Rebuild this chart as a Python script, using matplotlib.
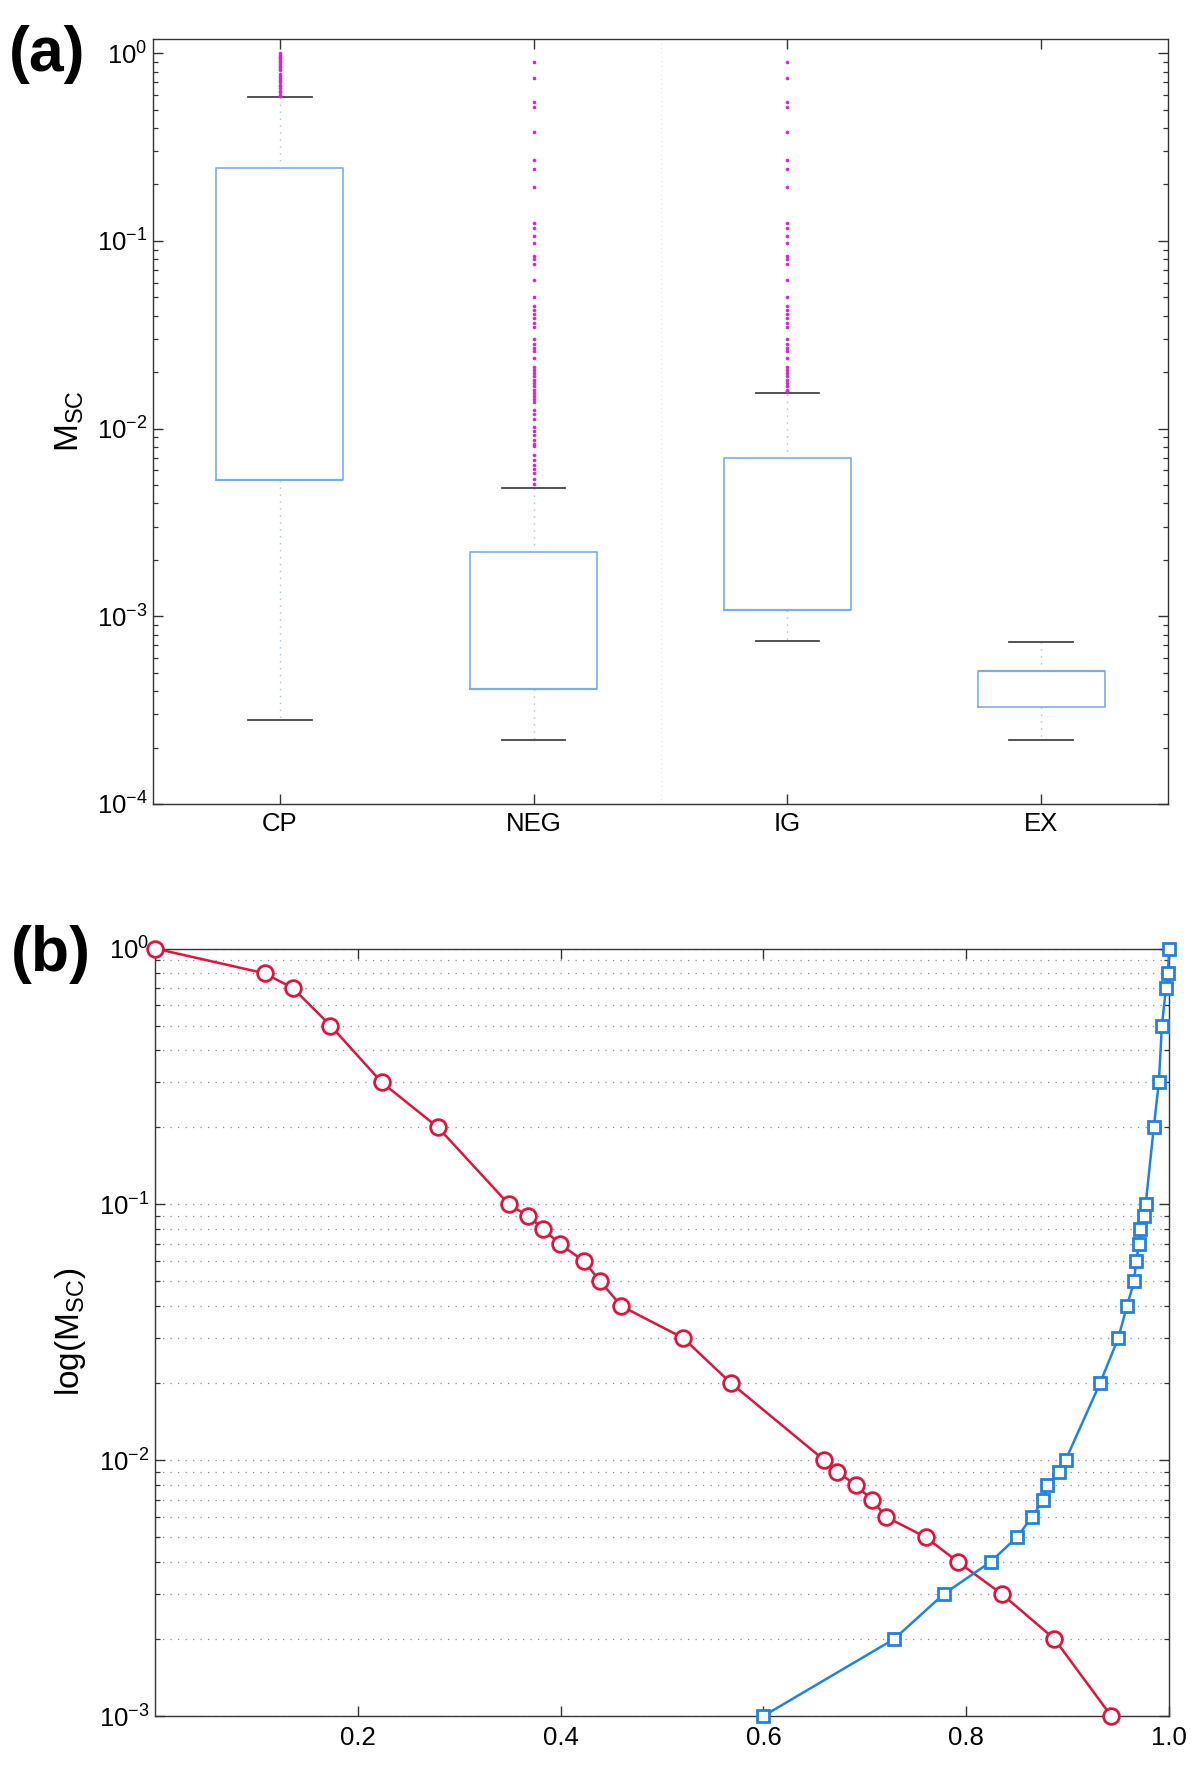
import matplotlib
matplotlib.use('Agg')
import matplotlib.pyplot as plt
from matplotlib.ticker import LogLocator, FixedLocator, NullFormatter, LogFormatterSciNotation, NullLocator

plt.rcParams['font.family'] = ['Liberation Sans', 'DejaVu Sans']
plt.rcParams['mathtext.fontset'] = 'custom'
plt.rcParams['mathtext.rm'] = 'Liberation Sans'
plt.rcParams['mathtext.it'] = 'Liberation Sans:italic'
plt.rcParams['mathtext.bf'] = 'Liberation Sans:bold'
plt.rcParams['axes.unicode_minus'] = False

# ---------------- data: panel (a) ----------------
categories = ['CP', 'NEG', 'IG', 'EX']
q1 = [5.3e-3, 4.1e-4, 1.08e-3, 3.3e-4]
medians = [5.3e-3, 4.1e-4, 1.08e-3, 5.1e-4]
q3 = [0.244, 2.2e-3, 6.97e-3, 5.1e-4]
whisker_low = [2.8e-4, 2.2e-4, 7.35e-4, 2.2e-4]
whisker_high = [0.585, 4.85e-3, 0.0154, 7.3e-4]

outliers_cp = [1.0, 0.98, 0.96, 0.95, 0.93, 0.91, 0.90, 0.88, 0.86, 0.85, 0.83,
               0.81, 0.78, 0.76, 0.74, 0.72, 0.70, 0.68, 0.67, 0.65, 0.63, 0.62,
               0.60, 0.59]
outliers_neg = [0.90, 0.74, 0.55, 0.52, 0.38, 0.27, 0.243, 0.194, 0.124, 0.117,
                0.106, 0.097, 0.0836, 0.080, 0.0758, 0.0622, 0.0501, 0.045, 0.043,
                0.041, 0.039, 0.0364, 0.0346, 0.0302, 0.0281, 0.0268, 0.0258,
                0.0238, 0.0214, 0.0205, 0.0198, 0.019, 0.0182, 0.0175, 0.0168,
                0.0161, 0.0155, 0.0149, 0.0144, 0.0139, 0.0126, 0.0119, 0.0112,
                0.0102, 0.0097, 0.0092, 0.0087, 0.0083, 0.0081, 0.0072, 0.0068,
                0.0064, 0.0061, 0.0058, 0.0054, 0.0051]
outliers_ig = [0.90, 0.74, 0.55, 0.52, 0.38, 0.27, 0.243, 0.194, 0.124, 0.117,
               0.106, 0.097, 0.0836, 0.080, 0.0758, 0.0622, 0.0501, 0.045, 0.043,
               0.041, 0.039, 0.0364, 0.0346, 0.0302, 0.0281, 0.0268, 0.0258,
               0.0238, 0.0214, 0.0205, 0.0198, 0.019, 0.0182, 0.0175, 0.0168,
               0.0161, 0.0158]
outliers_ex = []
outliers = [outliers_cp, outliers_neg, outliers_ig, outliers_ex]

# ---------------- data: panel (b) ----------------
msc_levels = [1.0, 0.8, 0.7, 0.5, 0.3, 0.2, 0.1, 0.09, 0.08, 0.07, 0.06, 0.05,
              0.04, 0.03, 0.02, 0.01, 0.009, 0.008, 0.007, 0.006, 0.005, 0.004,
              0.003, 0.002, 0.001]
red_x = [0.0, 0.108, 0.136, 0.173, 0.2235, 0.279, 0.349, 0.368, 0.383, 0.399,
         0.423, 0.439, 0.460, 0.521, 0.568, 0.660, 0.673, 0.691, 0.707, 0.721,
         0.760, 0.792, 0.835, 0.887, 0.943]
blue_x = [1.0, 0.999, 0.997, 0.993, 0.990, 0.985, 0.977, 0.975, 0.9717, 0.9706,
          0.9675, 0.9656, 0.9585, 0.950, 0.932, 0.898, 0.892, 0.880, 0.876,
          0.865, 0.850, 0.824, 0.778, 0.729, 0.600]
xticks_b = [0.2, 0.4, 0.6, 0.8, 1.0]

BOXC = '#7aaee8'
WHC = '#a6c2e0'
CAPC = '#444444'
MAG = '#dd22dd'
RED = '#e0143c'
BLUE = '#1e82e6'
SPINE = '#333333'

fig = plt.figure(figsize=(12, 17.75), dpi=100)

# ---------------- panel (a) ----------------
ax1 = fig.add_axes([153/1200, 1-804/1775, (1168-153)/1200, (804-39)/1775])
positions = list(range(1, len(categories)+1))
stats = []
for i, name in enumerate(categories):
    stats.append(dict(label=name, q1=q1[i], med=medians[i], q3=q3[i],
                      whislo=whisker_low[i], whishi=whisker_high[i],
                      fliers=outliers[i]))
ax1.bxp(stats, positions=positions, widths=0.5, capwidths=0.25, showfliers=True,
        boxprops=dict(color=BOXC, lw=1.2),
        whiskerprops=dict(color=WHC, ls=(0, (1, 4)), lw=1.0),
        capprops=dict(color=CAPC, lw=1.3),
        medianprops=dict(color=BOXC, lw=1.6),
        flierprops=dict(marker='o', markersize=2.6, markerfacecolor=MAG,
                        markeredgecolor=MAG, markeredgewidth=0, linestyle='none'))
ax1.axvline(2.5, color='#dddddd', ls=(0, (1, 3)), lw=0.8, zorder=0)
ax1.set_yscale('log')
ax1.set_ylim(1e-4, 1.192)
ax1.set_xlim(0.5, 4.5)
ax1.set_xticks(positions)
ax1.set_xticklabels(categories)
ax1.xaxis.set_minor_locator(NullLocator())
ax1.yaxis.set_major_locator(LogLocator(base=10, numticks=10))
ax1.yaxis.set_major_formatter(LogFormatterSciNotation())
ax1.yaxis.set_minor_locator(LogLocator(base=10, subs=range(2, 10), numticks=20))
ax1.yaxis.set_minor_formatter(NullFormatter())
ax1.tick_params(which='both', direction='in', top=True, right=True, color=SPINE)
ax1.tick_params(which='major', length=7.2, width=1.0, labelsize=18.5)
ax1.tick_params(which='minor', length=3.6, width=0.9)
ax1.tick_params(axis='x', which='major', pad=6)
ax1.tick_params(axis='y', which='major', pad=4)
for s in ax1.spines.values():
    s.set_color(SPINE)
    s.set_linewidth(1.0)
ax1.set_ylabel(r'M$_{\mathregular{SC}}$', fontsize=24)
ax1.yaxis.set_label_coords(-0.066, 0.5)

# ---------------- panel (b) ----------------
ax2 = fig.add_axes([155/1200, 1-1716/1775, (1169-155)/1200, (1716-948.5)/1775])
ax2.set_axisbelow(True)
ax2.plot(red_x, msc_levels, '-o', color=RED, mfc='white', mec=RED, ms=11.3,
         mew=2.0, lw=1.8, clip_on=False, zorder=3)
ax2.plot(blue_x, msc_levels, '-s', color=BLUE, mfc='white', mec=BLUE, ms=8.6,
         mew=2.0, lw=1.8, clip_on=False, zorder=3)
ax2.set_yscale('log')
ax2.set_ylim(1e-3, 1.0)
ax2.set_xlim(0.0, 1.0)
ax2.xaxis.set_major_locator(FixedLocator(xticks_b))
ax2.set_xticklabels(['%.1f' % v for v in xticks_b])
ax2.xaxis.set_minor_locator(NullLocator())
ax2.yaxis.set_major_locator(LogLocator(base=10, numticks=10))
ax2.yaxis.set_major_formatter(LogFormatterSciNotation())
ax2.yaxis.set_minor_locator(LogLocator(base=10, subs=range(2, 10), numticks=20))
ax2.yaxis.set_minor_formatter(NullFormatter())
ax2.yaxis.grid(True, which='both', color='#8c8c8c', ls=(0, (1, 5)), lw=0.9)
ax2.xaxis.grid(False)
ax2.tick_params(which='both', direction='in', top=True, right=True, color=SPINE)
ax2.tick_params(which='major', length=7.2, width=1.0, labelsize=18.5)
ax2.tick_params(which='minor', length=3.6, width=0.9)
ax2.tick_params(axis='x', which='major', pad=7)
ax2.tick_params(axis='y', which='major', pad=4)
for s in ax2.spines.values():
    s.set_color(SPINE)
    s.set_linewidth(1.0)
ax2.set_ylabel(r'log(M$_{\mathregular{SC}}$)', fontsize=24)
ax2.yaxis.set_label_coords(-0.066, 0.5)

# panel labels
fig.text(9/1200, 1-55/1775, '(a)', fontsize=45, fontweight='bold', ha='left', va='center')
fig.text(11/1200, 1-955/1775, '(b)', fontsize=45, fontweight='bold', ha='left', va='center')

fig.savefig('out.png', dpi=100)
